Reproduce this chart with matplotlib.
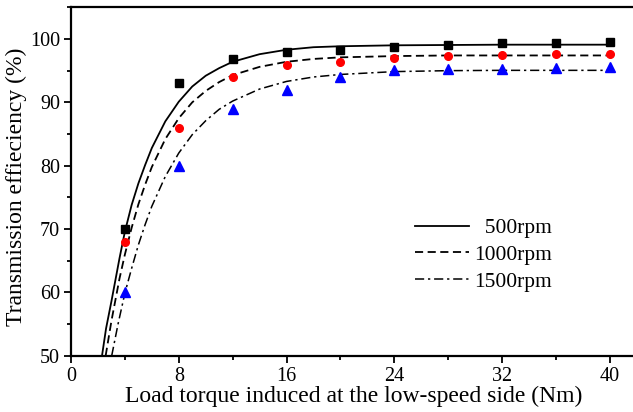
import matplotlib.pyplot as plt
from matplotlib.ticker import MultipleLocator

plt.rcParams['font.family'] = ['Liberation Serif', 'DejaVu Serif']

# measured points (load torque in Nm, efficiency in %)
torque = [4, 8, 12, 16, 20, 24, 28, 32, 36, 40]
eff_500 = [70.0, 93.0, 96.9, 97.9, 98.3, 98.8, 99.0, 99.3, 99.4, 99.5]
eff_1000 = [68.0, 86.0, 94.0, 95.9, 96.4, 97.0, 97.3, 97.4, 97.6, 97.7]
eff_1500 = [60.0, 80.0, 89.0, 92.0, 94.0, 95.1, 95.2, 95.3, 95.4, 95.5]

# fitted curves
fit_x_500 = [2.3, 2.6, 3.0, 3.6, 4.0, 4.5, 5.0, 5.5, 6.0, 7.0, 8.0, 9.0, 10, 11, 12, 14, 16, 18, 20, 24, 28, 32, 36, 40]
fit_500 = [50.0, 54.3, 58.6, 65.4, 69.6, 73.8, 77.2, 80.1, 82.8, 87.0, 90.1, 92.5, 94.2, 95.4, 96.4, 97.6, 98.3, 98.7, 98.85, 99.0, 99.05, 99.1, 99.1, 99.1]

fit_x_1000 = [2.57, 3.0, 3.6, 4.0, 4.5, 5.0, 5.5, 6.0, 7.0, 8.0, 9.0, 10, 11, 12, 14, 16, 18, 20, 24, 28, 32, 36, 40]
fit_1000 = [50.0, 55.5, 62.2, 66.0, 70.2, 73.9, 77.0, 79.8, 84.2, 87.5, 90.0, 91.8, 93.2, 94.3, 95.6, 96.4, 96.85, 97.1, 97.3, 97.4, 97.4, 97.4, 97.4]

fit_x_1500 = [3.02, 3.5, 4.0, 4.5, 5.0, 5.5, 6.0, 7.0, 8.0, 9.0, 10, 11, 12, 14, 16, 18, 20, 24, 28, 32, 36, 40]
fit_1500 = [50.0, 55.1, 59.9, 63.8, 67.5, 70.7, 73.6, 78.3, 82.0, 84.9, 87.1, 88.9, 90.2, 92.1, 93.3, 94.0, 94.4, 94.85, 95.0, 95.05, 95.05, 95.05]

fig = plt.figure(figsize=(6.33, 4.12), dpi=100)
ax = fig.add_axes([0.1122, 0.1364, 0.8937, 0.8459])

ax.plot(fit_x_500, fit_500, color='black', lw=1.3, ls='-', label='  500rpm')
ax.plot(fit_x_1000, fit_1000, color='black', lw=1.3, ls=(0, (4.5, 2.5)), label='1000rpm')
ax.plot(fit_x_1500, fit_1500, color='black', lw=1.1, ls=(0, (6, 2.5, 1.5, 2.5)), label='1500rpm')

ax.plot(torque, eff_500, ls='none', marker='s', ms=5.5, color='black', zorder=3)
ax.plot(torque, eff_1000, ls='none', marker='o', ms=5.5, color='red', zorder=3)
ax.plot(torque, eff_1500, ls='none', marker='^', ms=6.5, color='blue', zorder=3)

ax.set_xlim(0, 42)
ax.set_ylim(50, 105)
ax.xaxis.set_major_locator(MultipleLocator(8))
ax.xaxis.set_minor_locator(MultipleLocator(4))
ax.yaxis.set_minor_locator(MultipleLocator(5))
ax.set_yticks([50, 60, 70, 80, 90, 100])
ax.tick_params(which='major', direction='out', length=5, width=1.3, labelsize=14.5, pad=3)
ax.tick_params(which='minor', direction='out', length=3, width=1.3)
for sp in ax.spines.values():
    sp.set_linewidth(1.6)

ax.set_xlabel('Load torque induced at the low-speed side (Nm)', fontsize=17, labelpad=0)
ax.set_ylabel('Transmission effieciency (%)', fontsize=17, labelpad=1)
ax.yaxis.set_label_coords(-0.077, 0.485)

leg = ax.legend(loc='upper left', bbox_to_anchor=(415 / 633, 1 - 218 / 412),
                bbox_transform=fig.transFigure, frameon=False, fontsize=15.5,
                handlelength=2.5, handletextpad=0.25, labelspacing=0.32,
                borderpad=0, borderaxespad=0)

fig.savefig('out.png', dpi=100)
